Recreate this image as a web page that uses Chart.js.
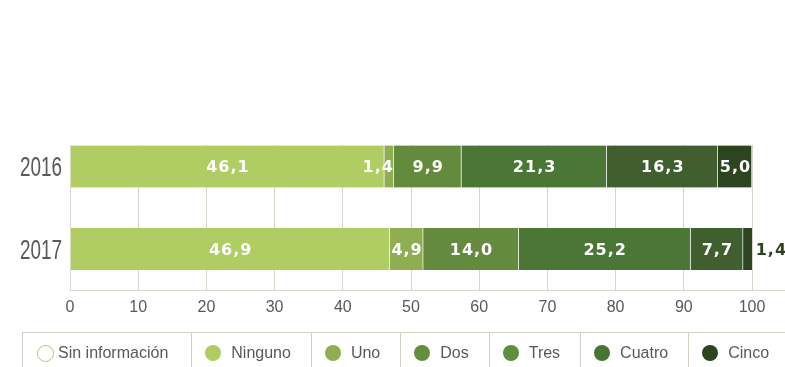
<!DOCTYPE html>
<html lang="es">
<head>
<meta charset="utf-8">
<title>Distribución por año</title>
<script src="https://cdn.jsdelivr.net/npm/chart.js@4/dist/chart.umd.min.js"></script>
<style>
  html, body { margin: 0; padding: 0; background: #fff; }
  #wrap { position: relative; width: 785px; height: 367px; overflow: hidden; }
  #chart { position: absolute; left: 0; top: 0; }
  #legend {
    position: absolute; left: 22px; top: 332px; height: 42px;
    display: flex; border: 1px solid #d6cfc5; box-sizing: border-box;
    font: 16px "Liberation Sans", Arial, sans-serif; color: #58595b;
    white-space: nowrap;
  }
  #legend .item {
    display: flex; align-items: center; height: 100%;
    padding: 0 20px 0 13px; box-sizing: border-box;
  }
  #legend .item + .item { border-left: 1px solid #d6cfc5; }
  #legend .dot {
    width: 16px; height: 16px; border-radius: 50%; margin-right: 10px;
    box-sizing: border-box; flex: none;
  }
  #legend .dot.hollow { margin-right: 4px; width: 17px; height: 17px; }
  #legend .item:first-child { padding-left: 14px; padding-right: 23px; }
</style>
</head>
<body>
<div id="wrap">
  <canvas id="chart" width="785" height="367"></canvas>
  <div id="legend"></div>
</div>
<script>
// Categories and series values (percent)
const years = ['2016', '2017'];
const seriesNames = ['Sin información', 'Ninguno', 'Uno', 'Dos', 'Tres', 'Cuatro', 'Cinco'];
const sinInformacion = [0, 0];
const ninguno = [46.1, 46.9];
const uno = [1.4, 4.9];
const dos = [9.9, 14.0];
const tres = [21.3, 25.2];
const cuatro = [16.3, 7.7];
const cinco = [5.0, 1.4];
const xTicks = [0, 10, 20, 30, 40, 50, 60, 70, 80, 90, 100];

// Styling
const barColors = ['#ffffff', '#afcd62', '#8fae52', '#648b3d', '#4b7736', '#3f5f2e', '#2d4420'];
const legendColors = ['#ffffff', '#afcd62', '#8fae52', '#648d3e', '#5f8e3f', '#477634', '#2c4420'];
const gridColor = '#d9d3ca';
const textColor = '#58595b';

const seriesValues = [sinInformacion, ninguno, uno, dos, tres, cuatro, cinco];

const datasets = seriesNames.map((name, s) => ({
  label: name,
  data: seriesValues[s].map((v, i) => ({ x: v, y: i })),
  backgroundColor: barColors[s],
  borderColor: 'rgba(255,255,255,0.18)',
  borderWidth: { top: 0, bottom: 0, left: 0, right: 1 },
  borderSkipped: false,
  barThickness: 42,
  stack: 'total'
}));

const fmt = v => v.toFixed(1).replace('.', ',');

// Value labels inside each segment (or just past the bar end when it does not fit)
const segmentLabels = {
  id: 'segmentLabels',
  afterDatasetsDraw(chart) {
    const ctx = chart.ctx;
    const last = chart.data.datasets.length - 1;
    ctx.save();
    ctx.font = 'bold 16px "DejaVu Sans", sans-serif';
    ctx.letterSpacing = '1px';
    ctx.textBaseline = 'alphabetic';
    chart.data.datasets.forEach((ds, di) => {
      const meta = chart.getDatasetMeta(di);
      meta.data.forEach((bar, i) => {
        const v = seriesValues[di][i];
        if (!v) return;
        const { x, y, base } = bar.getProps(['x', 'y', 'base'], true);
        const text = fmt(v);
        const w = ctx.measureText(text).width;
        const segW = x - base;
        const ty = y + 6;
        if (w > segW) {
          if (di === last) {
            ctx.fillStyle = ds.backgroundColor;
            ctx.textAlign = 'left';
            ctx.fillText(text, x + 3, ty);
          } else {
            ctx.fillStyle = '#ffffff';
            ctx.textAlign = 'right';
            ctx.fillText(text, x, ty);
          }
        } else {
          ctx.fillStyle = '#ffffff';
          ctx.textAlign = 'center';
          ctx.fillText(text, (x + base) / 2 + 0.5, ty);
        }
      });
    });
    ctx.restore();
  }
};

// Year labels in a condensed face, placed through the y scale
const yearLabels = {
  id: 'yearLabels',
  afterDraw(chart) {
    const { ctx } = chart;
    const yScale = chart.scales.y;
    const right = yScale.right - 8;
    ctx.save();
    ctx.font = '27px "Liberation Sans", Arial, sans-serif';
    ctx.fillStyle = textColor;
    ctx.textAlign = 'right';
    ctx.textBaseline = 'alphabetic';
    years.forEach((label, i) => {
      const py = yScale.getPixelForValue(i);
      ctx.save();
      ctx.translate(right, py + 10);
      ctx.scale(0.7, 1);
      ctx.fillText(label, 0, 0);
      ctx.restore();
    });
    ctx.restore();
  }
};

// Baseline continues to the right edge of the canvas
const baselineExtension = {
  id: 'baselineExtension',
  afterDraw(chart) {
    const { ctx, chartArea } = chart;
    const yPix = Math.round(chartArea.bottom) + 0.5;
    ctx.save();
    ctx.strokeStyle = gridColor;
    ctx.lineWidth = 1;
    ctx.beginPath();
    ctx.moveTo(chartArea.right, yPix);
    ctx.lineTo(chart.width, yPix);
    ctx.stroke();
    ctx.restore();
  }
};

new Chart(document.getElementById('chart'), {
  type: 'bar',
  data: { datasets },
  plugins: [segmentLabels, yearLabels, baselineExtension],
  options: {
    indexAxis: 'y',
    responsive: false,
    animation: false,
    layout: { padding: { top: 145, right: 33, left: 0, bottom: 0 } },
    plugins: {
      legend: { display: false },
      tooltip: { enabled: false }
    },
    scales: {
      x: {
        type: 'linear',
        min: 0,
        max: 100,
        stacked: true,
        afterBuildTicks: s => { s.ticks = xTicks.map(v => ({ value: v })); },
        afterFit: s => { s.height = 77; },
        grid: { color: gridColor, lineWidth: 1, drawTicks: false },
        border: { color: gridColor, width: 1 },
        ticks: {
          padding: 8,
          color: textColor,
          font: { family: '"Liberation Sans", Arial, sans-serif', size: 16 }
        }
      },
      y: {
        type: 'linear',
        reverse: true,
        offset: false,
        min: -0.26,
        max: 1.497,
        afterBuildTicks: s => { s.ticks = years.map((_, i) => ({ value: i })); },
        afterFit: s => { s.width = 70; },
        grid: { display: false, offset: false },
        border: { color: gridColor, width: 1 },
        ticks: { display: false }
      }
    }
  }
});

// Legend row
const legend = document.getElementById('legend');
seriesNames.forEach((name, s) => {
  const item = document.createElement('div');
  item.className = 'item';
  const dot = document.createElement('span');
  dot.className = 'dot';
  if (s === 0) {
    dot.classList.add('hollow');
    dot.style.border = '1.5px solid ' + barColors[1];
    dot.style.background = '#fff';
  } else {
    dot.style.background = legendColors[s];
  }
  const label = document.createElement('span');
  label.textContent = name;
  item.appendChild(dot);
  item.appendChild(label);
  legend.appendChild(item);
});
</script>
</body>
</html>
